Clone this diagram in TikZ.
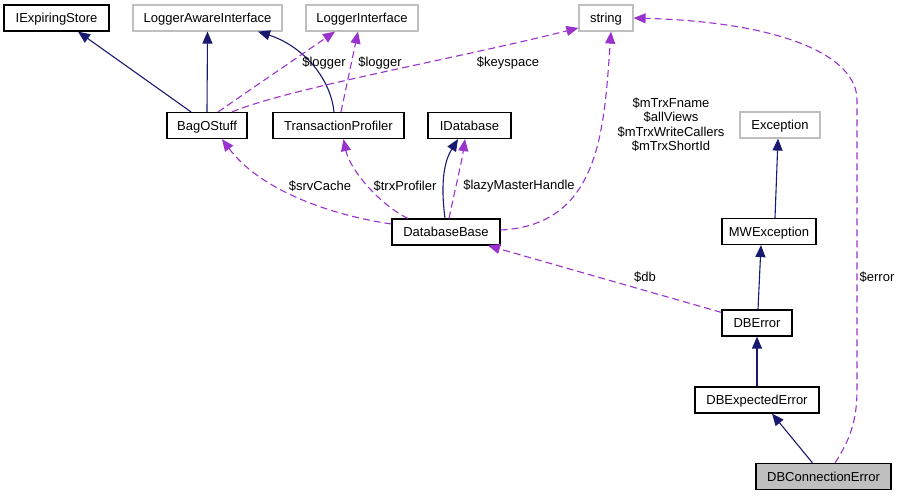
\documentclass[tikz,border=0pt]{standalone}
\usepackage{fontspec}
\setmainfont{Liberation Sans}
\usetikzlibrary{arrows.meta}
\definecolor{inhblue}{HTML}{191970}
\definecolor{usepurple}{HTML}{9A32CD}
\definecolor{extgray}{HTML}{BFBFBF}

\begin{document}
\begin{tikzpicture}[x=1pt, y=-1pt, font=\fontsize{13}{14.3}\selectfont,
        cls/.style={draw=black, fill=white, line width=1.2pt, inner sep=0pt, minimum height=26pt, text height=9.4pt, text depth=0pt},
        ext/.style={cls, draw=extgray},
        inh/.style={draw=inhblue, line width=1.1pt, -{Triangle[length=12pt,width=10pt]}},
        use/.style={draw=usepurple, line width=1.1pt, dash pattern=on 7pt off 4pt, -{Triangle[length=12pt,width=10pt]}},
        lbl/.style={inner sep=0pt, align=center}]
        \useasboundingbox (0,0) rectangle (900,496);
        % classes
        \node[cls, minimum width=105pt] (IExpiringStore) at (56.5,18) {IExpiringStore};
        \node[ext, minimum width=149pt] (LoggerAware) at (207.5,18) {LoggerAwareInterface};
        \node[ext, minimum width=112pt] (LoggerIface) at (362,18) {LoggerInterface};
        \node[ext, minimum width=54pt] (string) at (606,18) {string};
        \node[cls, minimum width=80pt] (BagOStuff) at (207,125.5) {BagOStuff};
        \node[cls, minimum width=131pt] (TrxProfiler) at (338.5,125.5) {TransactionProfiler};
        \node[cls, minimum width=83pt] (IDatabase) at (469.5,125.5) {IDatabase};
        \node[ext, minimum width=80pt] (Exception) at (780,125) {Exception};
        \node[cls, minimum width=108pt] (DatabaseBase) at (446,232) {DatabaseBase};
        \node[cls, minimum width=94pt] (MWException) at (769,231.5) {MWException};
        \node[cls, minimum width=70pt] (DBError) at (757,323) {DBError};
        \node[cls, minimum width=124pt] (DBExpected) at (757,400) {DBExpectedError};
        \node[cls, fill=extgray, minimum width=135pt] (DBConnection) at (823.5,476.5) {DBConnectionError};
        % inheritance
        \draw[inh] ([xshift=-16pt]BagOStuff.north) -- ([xshift=21.5pt]IExpiringStore.south);
        \draw[inh] (BagOStuff.north) -- (LoggerAware.south);
        \draw[inh] ([xshift=-4.5pt]TrxProfiler.north) .. controls (330,75) and (300,45) .. ([xshift=50.5pt]LoggerAware.south);
        \draw[inh] ([xshift=-1pt]DatabaseBase.north) .. controls (440,180) and (445,160) .. ([xshift=-11.5pt]IDatabase.south);
        \draw[inh] ([xshift=6pt]MWException.north) -- ([xshift=-2pt]Exception.south);
        \draw[inh] ([xshift=1pt]DBError.north) -- ([xshift=-8pt]MWException.south);
        \draw[inh] (DBExpected.north) -- (DBError.south);
        \draw[inh] ([xshift=-11pt]DBConnection.north) -- ([xshift=15pt]DBExpected.south);
        % members
        \draw[use] ([xshift=11pt]BagOStuff.north) -- ([xshift=-27pt]LoggerIface.south);
        \draw[use] ([xshift=2.5pt]TrxProfiler.north) -- ([xshift=-4pt]LoggerIface.south);
        \draw[use] ([xshift=25pt]BagOStuff.north) .. controls (290,88) and (450,60) .. ([yshift=-10pt]string.west);
        \draw[use] ([yshift=8pt]DatabaseBase.west) .. controls (330,215) and (260,190) .. ([xshift=15pt]BagOStuff.south);
        \draw[use] ([xshift=-38pt]DatabaseBase.north) .. controls (380,205) and (350,170) .. ([xshift=5pt]TrxProfiler.south);
        \draw[use] ([xshift=3pt]DatabaseBase.north) .. controls (455,190) and (462,160) .. ([xshift=-4.5pt]IDatabase.south);
        \draw[use] ([yshift=2pt]DatabaseBase.east) .. controls (600,225) and (604,130) .. ([xshift=5pt]string.south);
        \draw[use] ([yshift=-3pt]DBError.north west) -- ([xshift=42pt]DatabaseBase.south);
        \draw[use] ([xshift=11.5pt]DBConnection.north) .. controls (850,440) and (857,420) .. (857,390)
            -- (857,100) .. controls (857,55) and (780,22) .. (string.east);
        % labels
        \node[lbl] (lblLoggerBag) at (324,63) {\$logger};
        \node[lbl] (lblLoggerTrx) at (380,63) {\$logger};
        \node[lbl] (lblKeyspace) at (508,63) {\$keyspace};
        \node[lbl] (lblSrvCache) at (320,186) {\$srvCache};
        \node[lbl] (lblTrxProfiler) at (405,186) {\$trxProfiler};
        \node[lbl] (lblLazy) at (519,186) {\$lazyMasterHandle};
        \node[lbl] (lblTrxVars) at (671,124.5) {\$mTrxFname\\\$allViews\\\$mTrxWriteCallers\\\$mTrxShortId};
        \node[lbl] (lblDb) at (645,277) {\$db};
        \node[lbl] (lblError) at (877,277) {\$error};
    \end{tikzpicture}
\end{document}
